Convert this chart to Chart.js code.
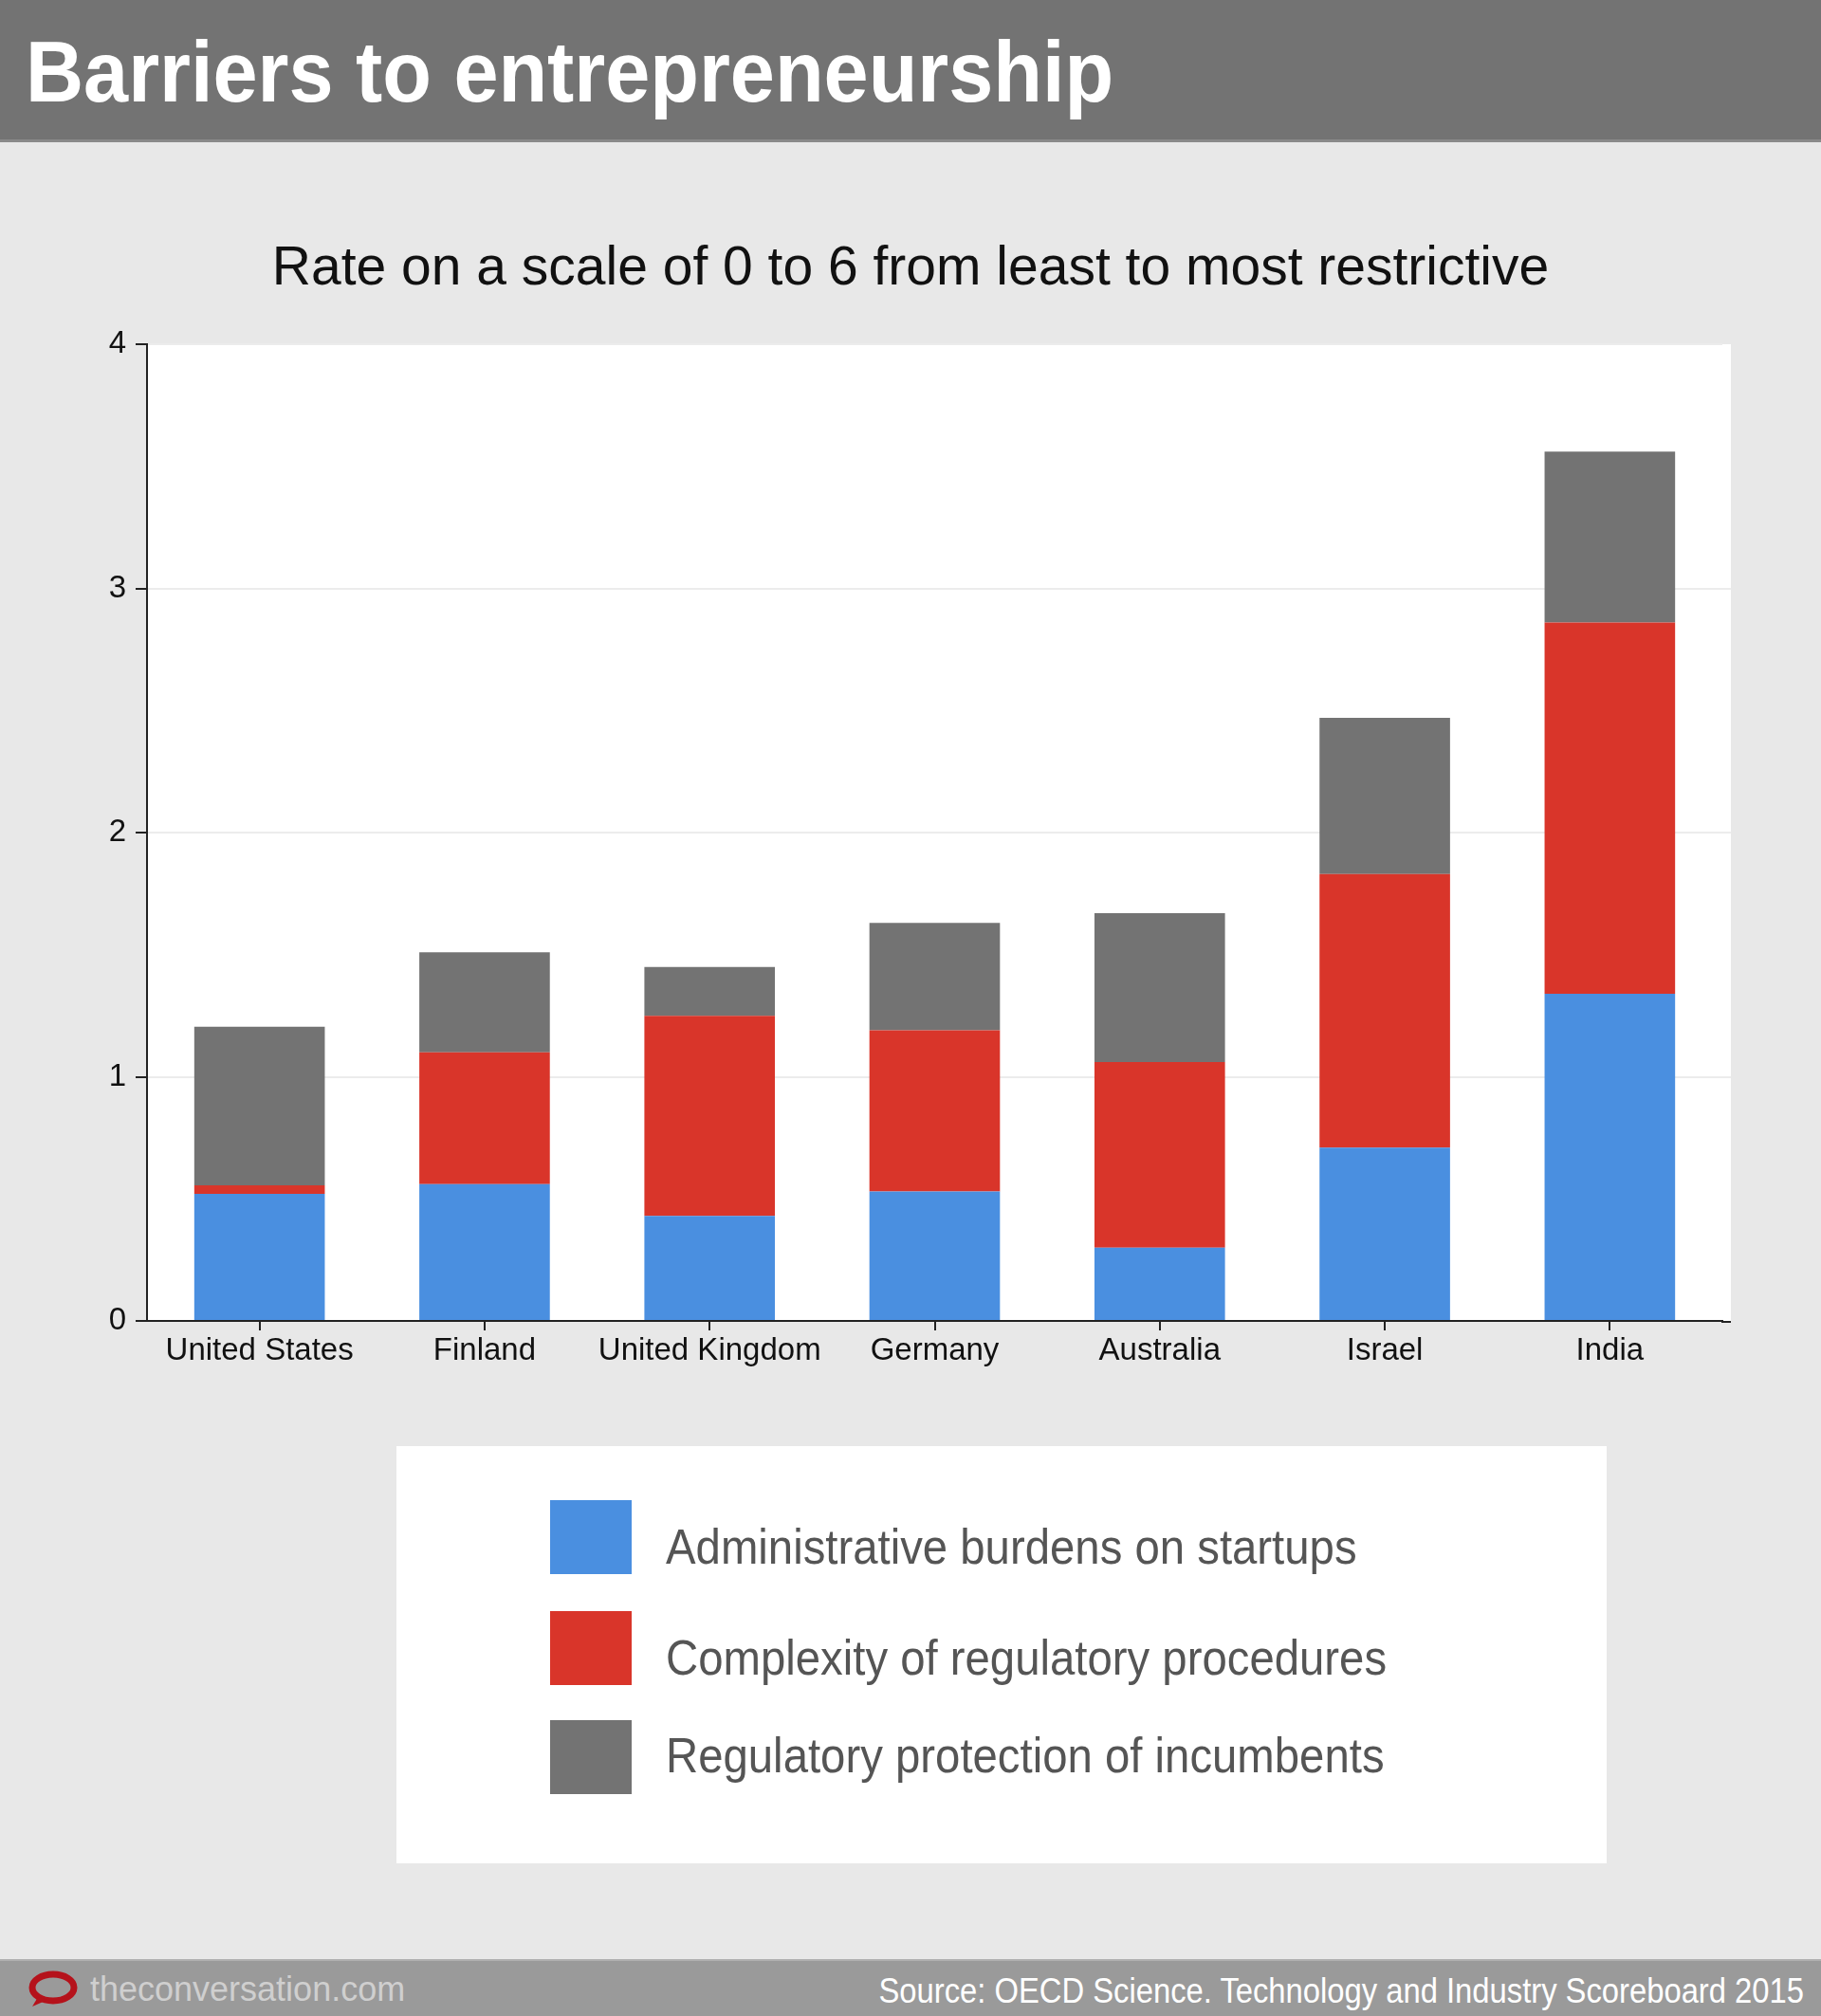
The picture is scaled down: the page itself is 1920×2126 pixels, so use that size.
<!DOCTYPE html>
<html>
<head>
<meta charset="utf-8">
<script src="https://cdn.jsdelivr.net/npm/chart.js@4.4.1/dist/chart.umd.min.js"></script>
<style>
  html, body { margin: 0; padding: 0; }
  body {
    width: 1920px; height: 2126px; position: relative; overflow: hidden;
    background: #e8e8e8;
    font-family: "Liberation Sans Narrow", "Liberation Sans", Arial, sans-serif;
  }
  #header {
    position: absolute; left: 0; top: 0; width: 1920px; height: 147px;
    background: #737373; border-bottom: 3px solid #8a8a8a;
  }
  #header h1 {
    margin: 0; position: absolute; left: 27px; top: 26px;
    color: #fff; font-weight: bold; font-size: 90px; line-height: 100px;
    transform: scaleX(0.94); transform-origin: left center; white-space: nowrap;
  }
  #subtitle {
    position: absolute; left: 0; top: 245px; width: 1920px; text-align: center;
    font-size: 57px; line-height: 70px; color: #111;
  }
  #chartBox { position: absolute; left: 0; top: 300px; width: 1920px; height: 1153px; }
  #legend {
    position: absolute; left: 418px; top: 1525px; width: 1276px; height: 440px;
    background: #fff;
  }
  .item { position: absolute; left: 162px; height: 78px; }
  .swatch { position: absolute; left: 0; top: 0; width: 86px; height: 78px; }
  .label {
    position: absolute; left: 122px; white-space: nowrap;
    font-size: 52px; line-height: 70px; color: #555;
    transform: scaleX(0.91); transform-origin: left center;
  }
  #footer {
    position: absolute; left: 0; top: 2066px; width: 1920px; height: 60px;
    background: #9a9a9a; border-top: 2px solid #b0b0b0;
  }
  #site {
    position: absolute; left: 95px; top: 8px; font-size: 36px; line-height: 44px;
    color: #cfcfcf;
  }
  #logo { position: absolute; left: 28px; top: 10px; }
  #source {
    position: absolute; right: 18px; top: 10px; font-size: 36px; line-height: 44px;
    color: #fff; white-space: nowrap;
    transform: scaleX(0.91); transform-origin: right center;
  }
</style>
</head>
<body>
<div id="header"><h1>Barriers to entrepreneurship</h1></div>
<div id="subtitle">Rate on a scale of 0 to 6 from least to most restrictive</div>
<div id="chartBox"><canvas id="chart" width="1920" height="1153"></canvas></div>
<div id="legend"></div>
<div id="footer">
  <svg id="logo" width="56" height="40" viewBox="0 0 56 40">
    <ellipse cx="28" cy="18" rx="22" ry="14" fill="none" stroke="#b5121b" stroke-width="7"/>
    <path d="M12 28 L6 38 L22 31 Z" fill="#b5121b"/>
  </svg>
  <div id="site">theconversation.com</div>
  <div id="source">Source: OECD Science. Technology and Industry Scoreboard 2015</div>
</div>
<script>
const countries = ['United States', 'Finland', 'United Kingdom', 'Germany', 'Australia', 'Israel', 'India'];
const adminBurdens = [0.52, 0.56, 0.43, 0.53, 0.30, 0.71, 1.34];
const regComplexity = [0.035, 0.54, 0.82, 0.66, 0.76, 1.12, 1.52];
const incumbentProtection = [0.65, 0.41, 0.20, 0.44, 0.61, 0.64, 0.70];
const seriesNames = [
  'Administrative burdens on startups',
  'Complexity of regulatory procedures',
  'Regulatory protection of incumbents',
];
const seriesColors = ['#4a8fe0', '#d9352a', '#737373'];
const yTicks = [0, 1, 2, 3, 4];

const tickFont = { family: '"Liberation Sans Narrow", "Liberation Sans", Arial, sans-serif', size: 33 };
const gridColor = '#ececec';

// the white panel, grid and x axis line run a little past the last category
const PANEL_OVERHANG = 9;

const plotBackground = {
  id: 'plotBackground',
  beforeDraw(chart) {
    const { ctx, chartArea: a } = chart;
    ctx.save();
    ctx.fillStyle = '#ffffff';
    ctx.fillRect(a.left, a.top, a.right - a.left + PANEL_OVERHANG, a.bottom - a.top);
    ctx.restore();
  },
  beforeDatasetsDraw(chart) {
    const { ctx, chartArea: a, scales: { y } } = chart;
    ctx.save();
    ctx.strokeStyle = gridColor;
    ctx.lineWidth = 2;
    yTicks.slice(1, -1).forEach((v) => {
      const py = Math.round(y.getPixelForValue(v));
      ctx.beginPath();
      ctx.moveTo(a.right - 1, py);
      ctx.lineTo(a.right + PANEL_OVERHANG, py);
      ctx.stroke();
    });
    ctx.restore();
  },
  afterDraw(chart) {
    const { ctx, chartArea: a } = chart;
    ctx.save();
    ctx.strokeStyle = '#222';
    ctx.lineWidth = 2;
    ctx.beginPath();
    ctx.moveTo(a.right - 1, a.bottom + 1);
    ctx.lineTo(a.right + PANEL_OVERHANG, a.bottom + 1);
    ctx.stroke();
    ctx.restore();
  },
};

const seriesValues = [adminBurdens, regComplexity, incumbentProtection];

const chart = new Chart(document.getElementById('chart').getContext('2d'), {
  type: 'bar',
  data: {
    labels: countries,
    datasets: seriesValues.map((values, i) => ({
      label: seriesNames[i],
      data: values,
      backgroundColor: seriesColors[i],
      borderWidth: 0,
      barPercentage: 0.58,
      categoryPercentage: 1,
    })),
  },
  options: {
    responsive: false,
    animation: false,
    devicePixelRatio: 1,
    layout: { padding: { left: 75, right: 95 + PANEL_OVERHANG, top: 63, bottom: 0 } },
    plugins: { legend: { display: false }, tooltip: { enabled: false } },
    scales: {
      x: {
        stacked: true,
        afterFit(scale) { scale.height = 60; },
        border: { display: true, color: '#222', width: 2 },
        grid: { offset: false, drawOnChartArea: false, drawTicks: true, tickLength: 10, tickColor: '#222', lineWidth: 2 },
        ticks: { color: '#111', font: tickFont, padding: 2, maxRotation: 0, autoSkip: false },
      },
      y: {
        stacked: true,
        min: 0,
        max: 4,
        afterFit(scale) { scale.width = 80; },
        afterBuildTicks(scale) { scale.ticks = yTicks.map((v) => ({ value: v })); },
        border: { display: true, color: '#222', width: 2 },
        grid: { color: gridColor, lineWidth: 2, tickLength: 12, tickColor: '#222' },
        ticks: { color: '#111', font: tickFont, padding: 10 },
      },
    },
  },
  plugins: [plotBackground],
});

// legend built from the same series
const legend = document.getElementById('legend');
const itemTops = [57, 174, 289];
const labelTops = [14, 14, 2];
seriesNames.forEach((name, i) => {
  const item = document.createElement('div');
  item.className = 'item';
  item.style.top = itemTops[i] + 'px';
  item.innerHTML = '<div class="swatch" style="background:' + seriesColors[i] + '"></div>'
    + '<div class="label" style="top:' + labelTops[i] + 'px">' + name + '</div>';
  legend.appendChild(item);
});
</script>
</body>
</html>
